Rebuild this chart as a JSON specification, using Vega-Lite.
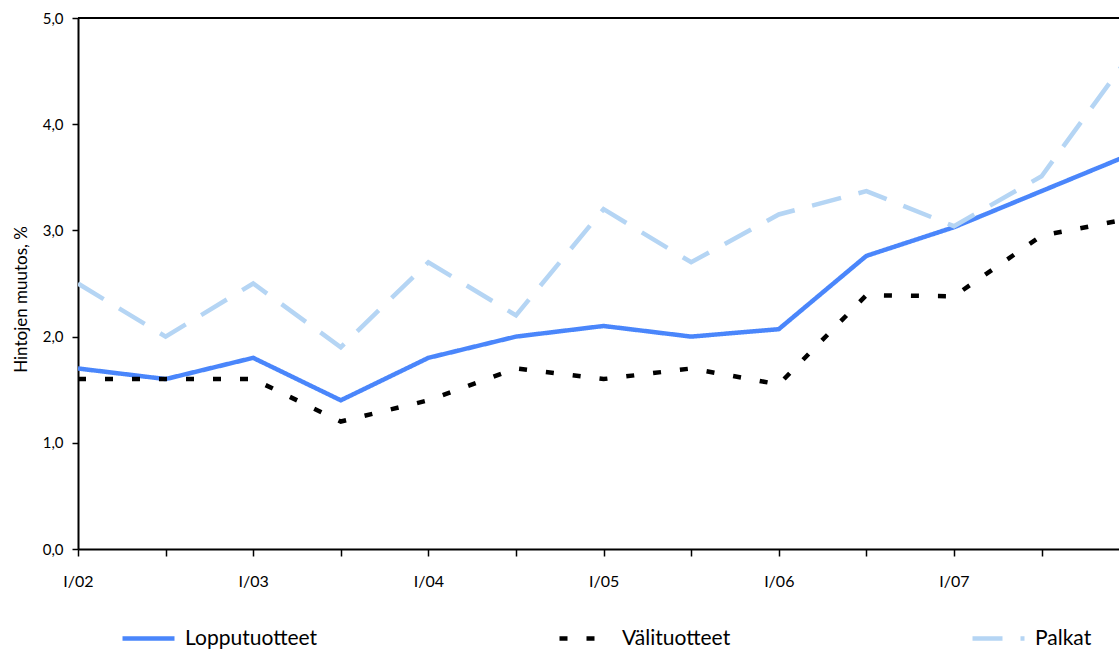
{
  "$schema": "https://vega.github.io/schema/vega-lite/v6.json",
  "width": 1041,
  "height": 531,
  "autosize": {"type": "none"},
  "padding": {"left": 78, "top": 18, "right": 0, "bottom": 101},
  "config": {"font": "Lato", "view": {"stroke": null}},
  "data": {"values": [
    {"t": 0, "series": "Lopputuotteet", "v": 1.70},
    {"t": 1, "series": "Lopputuotteet", "v": 1.60},
    {"t": 2, "series": "Lopputuotteet", "v": 1.80},
    {"t": 3, "series": "Lopputuotteet", "v": 1.40},
    {"t": 4, "series": "Lopputuotteet", "v": 1.80},
    {"t": 5, "series": "Lopputuotteet", "v": 2.00},
    {"t": 6, "series": "Lopputuotteet", "v": 2.10},
    {"t": 7, "series": "Lopputuotteet", "v": 2.00},
    {"t": 8, "series": "Lopputuotteet", "v": 2.07},
    {"t": 9, "series": "Lopputuotteet", "v": 2.76},
    {"t": 10, "series": "Lopputuotteet", "v": 3.03},
    {"t": 11, "series": "Lopputuotteet", "v": 3.37},
    {"t": 12, "series": "Lopputuotteet", "v": 3.71},
    {"t": 0, "series": "Välituotteet", "v": 1.60},
    {"t": 1, "series": "Välituotteet", "v": 1.60},
    {"t": 2, "series": "Välituotteet", "v": 1.60},
    {"t": 3, "series": "Välituotteet", "v": 1.20},
    {"t": 4, "series": "Välituotteet", "v": 1.40},
    {"t": 5, "series": "Välituotteet", "v": 1.70},
    {"t": 6, "series": "Välituotteet", "v": 1.60},
    {"t": 7, "series": "Välituotteet", "v": 1.70},
    {"t": 8, "series": "Välituotteet", "v": 1.55},
    {"t": 9, "series": "Välituotteet", "v": 2.39},
    {"t": 10, "series": "Välituotteet", "v": 2.38},
    {"t": 11, "series": "Välituotteet", "v": 2.95},
    {"t": 12, "series": "Välituotteet", "v": 3.11},
    {"t": 0, "series": "Palkat", "v": 2.50},
    {"t": 1, "series": "Palkat", "v": 2.00},
    {"t": 2, "series": "Palkat", "v": 2.50},
    {"t": 3, "series": "Palkat", "v": 1.90},
    {"t": 4, "series": "Palkat", "v": 2.70},
    {"t": 5, "series": "Palkat", "v": 2.20},
    {"t": 6, "series": "Palkat", "v": 3.20},
    {"t": 7, "series": "Palkat", "v": 2.70},
    {"t": 8, "series": "Palkat", "v": 3.15},
    {"t": 9, "series": "Palkat", "v": 3.37},
    {"t": 10, "series": "Palkat", "v": 3.04},
    {"t": 11, "series": "Palkat", "v": 3.51},
    {"t": 12, "series": "Palkat", "v": 4.64}
  ]},
  "layer": [
    {
      "mark": {"type": "line", "strokeWidth": 4.5, "clip": true},
      "encoding": {
        "x": {
          "field": "t", "type": "quantitative",
          "scale": {"domain": [0, 11.884], "nice": false, "zero": false},
          "axis": {
            "values": [0, 1, 2, 3, 4, 5, 6, 7, 8, 9, 10, 11],
            "labelExpr": "datum.value % 2 == 0 ? 'I/0' + (2 + datum.value / 2) : ''",
            "grid": false, "title": null,
            "domainColor": "black", "domainWidth": 2,
            "tickColor": "black", "tickWidth": 1.5, "tickSize": 7,
            "labelFontSize": 16, "labelPadding": 17, "labelColor": "black", "labelFlush": false
          }
        },
        "y": {
          "field": "v", "type": "quantitative",
          "scale": {"domain": [0, 5], "nice": false},
          "axis": {
            "values": [0, 1, 2, 3, 4, 5],
            "labelExpr": "replace(format(datum.value, '.1f'), '.', ',')",
            "title": "Hintojen muutos, %",
            "titleFontSize": 17, "titleFontWeight": "normal", "titleColor": "black",
            "titleX": -52, "titleY": 281, "titleBaseline": "alphabetic",
            "grid": false,
            "domainColor": "black", "domainWidth": 2,
            "tickColor": "black", "tickWidth": 1.5, "tickSize": 6,
            "labelFontSize": 15, "labelPadding": 9, "labelColor": "black"
          }
        },
        "color": {
          "field": "series", "type": "nominal", "title": null,
          "scale": {"domain": ["Lopputuotteet", "Välituotteet", "Palkat"], "range": ["#4a86fb", "#000000", "#b5d5f4"]},
          "legend": {
            "orient": "none", "legendX": 42, "legendY": 592, "direction": "horizontal",
            "columns": 3, "gridAlign": "none", "columnPadding": 232,
            "symbolType": "stroke", "symbolSize": 2704, "symbolStrokeWidth": 4.5,
            "labelFontSize": 21, "labelColor": "black", "labelOffset": 8, "labelLimit": 400
          }
        },
        "strokeDash": {
          "field": "series", "type": "nominal", "title": null,
          "scale": {"domain": ["Lopputuotteet", "Välituotteet", "Palkat"], "range": [[1, 0], [8, 19], [30, 18]]}
        }
      }
    },
    {
      "mark": {"type": "rule", "color": "black", "strokeWidth": 1.5},
      "encoding": {"y": {"datum": 5}}
    }
  ]
}
